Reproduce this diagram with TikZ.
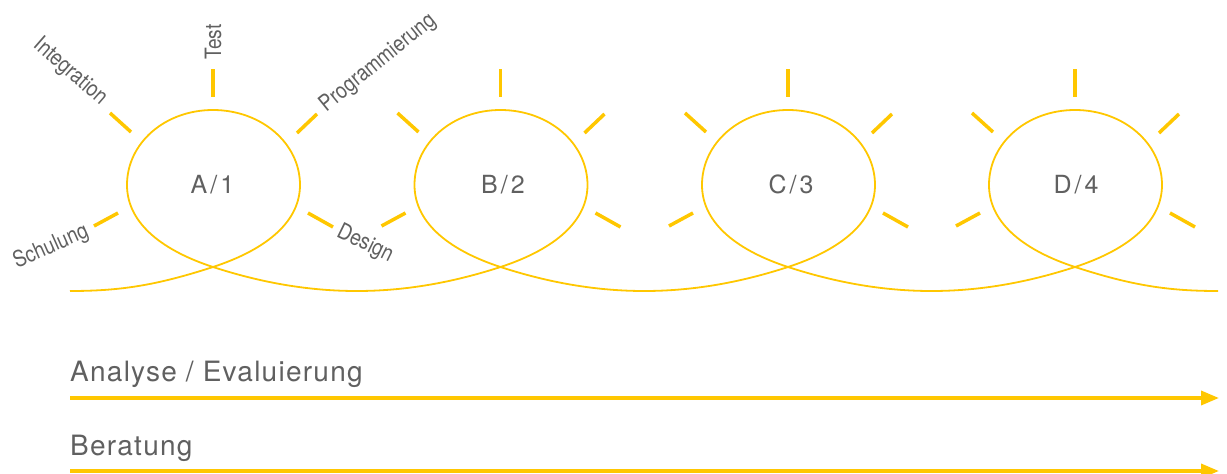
\documentclass[tikz,border=0pt]{standalone}
\usepackage{fontspec}
\setmainfont{TeX Gyre Heros}
\newfontfamily\condfont[FakeStretch=0.85]{TeX Gyre Heros}
\newfontfamily\widefont[LetterSpace=4.5]{TeX Gyre Heros}
\newfontfamily\phasefont[LetterSpace=12]{TeX Gyre Heros}
\usetikzlibrary{arrows.meta}
\definecolor{sunyellow}{RGB}{255,199,0}
\definecolor{txtgray}{RGB}{96,96,96}
\tikzset{
  loopline/.style={draw=sunyellow, line width=1.8pt},
  ray/.style={draw=sunyellow, line width=3.5pt},
  phase/.style={text=txtgray, inner sep=0pt, anchor=base, font=\phasefont\fontsize{25}{25}\selectfont},
  steplabel/.style={text=txtgray, inner sep=0pt, font=\condfont\fontsize{22.5}{22.5}\selectfont},
  tracklabel/.style={text=txtgray, inner sep=0pt, anchor=base west, font=\widefont\fontsize{28}{28}\selectfont},
  track/.style={draw=sunyellow, line width=3.5pt, -{Triangle[length=18pt,width=14pt]}}
}
\begin{document}
\begin{tikzpicture}[x=1pt,y=-1pt]
\useasboundingbox (0,0) rectangle (1227,474);

% the looping curve
\coordinate (start) at (70,291);
\coordinate (stop) at (1218,291);
\foreach \n/\cx in {A/213,B/500.5,C/788,D/1075}{
  \coordinate (x\n) at (\cx,267);
}
\foreach \cx in {213,500.5,788,1075}{
  \draw[loopline] (\cx,267)
    .. controls (\cx+47.5,251.5) and (\cx+87,225) .. (\cx+87,185)
    .. controls (\cx+87,143) and (\cx+48,110) .. (\cx,110)
    .. controls (\cx-48,110) and (\cx-86,143) .. (\cx-86,185)
    .. controls (\cx-86,225) and (\cx-47.5,251.5) .. (\cx,267);
}
\draw[loopline] (start) .. controls (120,291) and (156,285.5) .. (xA)
                     .. controls (311.4,299) and (402.1,299) .. (xB)
                     .. controls (598.9,299) and (689.6,299) .. (xC)
                     .. controls (886.4,299) and (976.6,299) .. (xD)
                     .. controls (1132,285.5) and (1168,291) .. (stop);

% rays around each loop
\foreach \cx in {213,500.5,788,1075}{
  \draw[ray] (\cx,69) -- (\cx,97);
  \draw[ray] (\cx-103,113) -- (\cx-82,132);
  \draw[ray] (\cx+84,133) -- (\cx+104,114);
  \draw[ray] (\cx-119,226) -- (\cx-95,213);
  \draw[ray] (\cx+95,213) -- (\cx+120,227);
}

% phase labels
\node[phase] (pA) at (212.5,193.5) {A/1};
\node[phase] (pB) at (503,193.5) {B/2};
\node[phase] (pC) at (791,193.5) {C/3};
\node[phase] (pD) at (1076,193.5) {D/4};

% step labels around the first loop
\node[steplabel, rotate=-41] (lInt) at (70,72) {Integration};
\node[steplabel, rotate=90] (lTest) at (213,42) {Test};
\node[steplabel, rotate=39] (lProg) at (378,63) {Programmierung};
\node[steplabel, rotate=24] (lSch) at (51,247) {Schulung};
\node[steplabel, rotate=-26] (lDes) at (365,244) {Design};

% tracks
\node[tracklabel] (tAna) at (70,381) {Analyse / Evaluierung};
\node[tracklabel] (tBer) at (70,455) {Beratung};
\coordinate (a0) at (70,398);
\coordinate (a1) at (1219,398);
\coordinate (b0) at (70,471);
\coordinate (b1) at (1219,471);
\draw[track] (a0) -- (a1);
\draw[track] (b0) -- (b1);
\end{tikzpicture}
\end{document}
